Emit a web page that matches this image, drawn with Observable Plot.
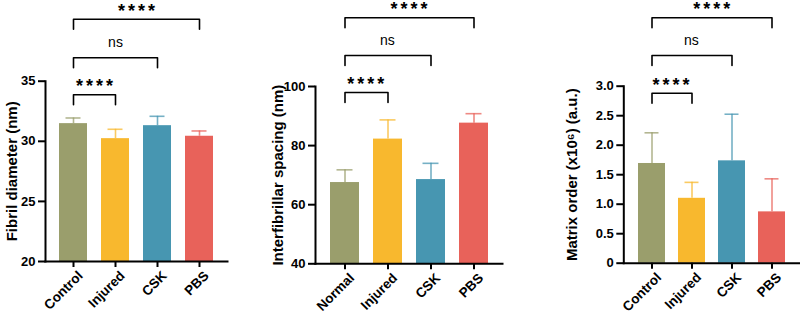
<!DOCTYPE html>
<html>
<head>
<meta charset="utf-8">
<script src="https://cdn.jsdelivr.net/npm/d3@7"></script>
<script src="https://cdn.jsdelivr.net/npm/@observablehq/plot@0.6"></script>
<style>
  html, body { margin: 0; padding: 0; background: #fff; }
  #wrap { position: relative; width: 800px; height: 316px; overflow: hidden; }
  #wrap svg { position: absolute; top: 0; overflow: visible; }
</style>
</head>
<body>
<div id="wrap"></div>
<script>
// ---- data ----
const groupsA = ["Control", "Injured", "CSK", "PBS"];
const groupsB = ["Normal", "Injured", "CSK", "PBS"];
const colors = ["#9a9e6c", "#f8b82e", "#4796b1", "#e8625a"];

const diameterMean = [31.47, 30.22, 31.30, 30.42];
const diameterSD   = [0.47, 0.78, 0.78, 0.44];

const spacingMean = [67.5, 82.2, 68.5, 87.6];
const spacingSD   = [4.3, 6.5, 5.5, 3.2];

const orderMean = [1.69, 1.10, 1.735, 0.87];
const orderSD   = [0.52, 0.27, 0.79, 0.56];

// comparisons: [first group index, second group index, label]
const comparisons = [[0, 1, "****"], [0, 2, "ns"], [0, 3, "****"]];

const diameterTicks = [20, 25, 30, 35];
const spacingTicks = [40, 60, 80, 100];
const orderTicks = [0, 0.5, 1.0, 1.5, 2.0, 2.5, 3.0];

// ---- layout ----
const panels = [
  {left: 0, width: 240, mL: 45, mR: 13, top: 80.7, bottom: 261,
   cats: groupsA, mean: diameterMean, sd: diameterSD, domain: [20, 35], ticks: diameterTicks,
   fmt: d => String(d), label: "Fibril diameter (nm)", labelDx: -33, brackets: [94.3, 57.3, 18.7]},
  {left: 270, width: 245, mL: 45, mR: 13, top: 86, bottom: 263.3,
   cats: groupsB, mean: spacingMean, sd: spacingSD, domain: [40, 100], ticks: spacingTicks,
   fmt: d => String(d), label: "Interfibrillar spacing (nm)", labelDx: -37, brackets: [92, 55, 17.3]},
  {left: 560, width: 240, mL: 63.3, mR: 1, top: 85.7, bottom: 262.7,
   cats: groupsA, mean: orderMean, sd: orderSD, domain: [0, 3], ticks: orderTicks,
   fmt: d => d === 0 ? "0" : d.toFixed(1), label: "Matrix order (x10\u2076) (a.u.)", labelDx: -51.6, brackets: [92.7, 55, 17.3]}
];

const wrap = document.getElementById("wrap");
const STAR_SPACING = 3;
const PAD = 0.33;

for (const p of panels) {
  const rows = p.cats.map((c, i) => ({cat: c, mean: p.mean[i], sd: p.sd[i], color: colors[i]}));
  const pxToY = py => p.domain[0] + (p.bottom - py) / (p.bottom - p.top) * (p.domain[1] - p.domain[0]);
  const xs = Plot.scale({x: {type: "band", domain: p.cats, padding: PAD, range: [p.mL, p.width - p.mR]}});
  const cx = c => xs.apply(c) + xs.bandwidth / 2;
  const drop = 10;
  const bracketPts = [];
  const labelMarks = [];
  comparisons.forEach(([a, b, lab], k) => {
    const py = p.brackets[k];
    const yTop = pxToY(py), yLow = pxToY(py + drop);
    bracketPts.push({x: p.cats[a], y: yLow, g: k}, {x: p.cats[a], y: yTop, g: k},
                    {x: p.cats[b], y: yTop, g: k}, {x: p.cats[b], y: yLow, g: k});
    const mid = (cx(p.cats[a]) + cx(p.cats[b])) / 2 - p.mL;
    const isStars = lab !== "ns";
    labelMarks.push(Plot.text([{lab, y: yTop}], {
      frameAnchor: "left", dx: mid + (isStars ? STAR_SPACING / 2 : 0), y: "y", text: "lab",
      textAnchor: "middle", lineAnchor: "bottom",
      dy: isStars ? -2.5 : -10.5,
      fontSize: isStars ? 18 : 14, fontWeight: isStars ? "bold" : "normal"
    }));
  });

  const chart = Plot.plot({
    width: p.width,
    height: 316,
    marginLeft: p.mL,
    marginRight: p.mR,
    marginTop: p.top,
    marginBottom: 316 - p.bottom,
    style: {fontFamily: "'Liberation Sans', Arial, sans-serif", fontWeight: "bold", color: "#000", background: "transparent", overflow: "visible"},
    x: {domain: p.cats, padding: PAD},
    y: {domain: p.domain},
    marks: [
      Plot.barY(rows, {x: "cat", y1: p.domain[0], y2: "mean", fill: d => d.color}),
      Plot.ruleX(rows, {x: "cat", y1: "mean", y2: d => d.mean + d.sd, stroke: d => d.color, strokeOpacity: 0.75, strokeWidth: 1.6}),
      Plot.tickY(rows, {x: "cat", y: d => d.mean + d.sd, stroke: d => d.color, strokeOpacity: 0.75, strokeWidth: 1.6, insetLeft: 6.5, insetRight: 6.5}),
      Plot.frame({anchor: "left", strokeWidth: 2}),
      Plot.frame({anchor: "bottom", strokeWidth: 2}),
      Plot.axisY({ticks: p.ticks, tickFormat: p.fmt, tickSize: 7, tickPadding: 3, fontSize: 13, strokeWidth: 2, label: null}),
      Plot.axisX({tickSize: 6, tickFormat: () => "", strokeWidth: 2, label: null}),
      Plot.axisX({tickSize: 0, tickPadding: 12, dx: 7, tickRotate: -45, fontSize: 13.5, label: null}),
      Plot.text([p.label], {frameAnchor: "left", dx: p.labelDx, rotate: -90, text: d => d, textAnchor: "middle", lineAnchor: "middle", fontSize: 15, fontWeight: "bold"}),
      Plot.line(bracketPts, {x: "x", y: "y", z: "g", stroke: "#000", strokeWidth: 1.6, curve: "linear"}),
      ...labelMarks
    ]
  });
  d3.select(chart).selectAll("text").each(function () {
    if (this.textContent === "****") this.setAttribute("letter-spacing", STAR_SPACING);
  });
  chart.style.left = p.left + "px";
  wrap.appendChild(chart);
}
</script>
</body>
</html>
